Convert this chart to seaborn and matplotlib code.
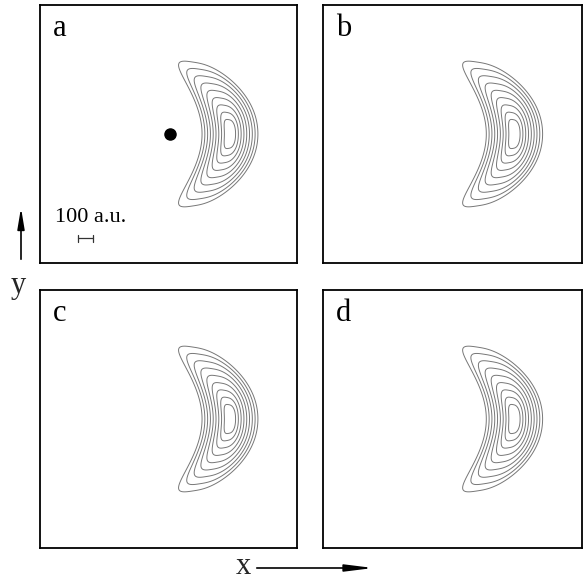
import numpy as np
import matplotlib
matplotlib.use("Agg")
import matplotlib.pyplot as plt
from matplotlib.patches import FancyArrowPatch
import seaborn as sns

sns.set_theme(style="white")
plt.rcParams["font.family"] = ["Liberation Serif", "DejaVu Serif"]

# Panel labels and crescent (wave-packet) parameters, lengths in a.u.
panel_labels = ["a", "b", "c", "d"]
packet_center_x = [410, 410, 410, 410]      # x of the packet maximum
bend = [0.00108, 0.00108, 0.00108, 0.00108]  # parabolic bending of the arms (1/a.u.)
horn_tilt = [0.18, 0.18, 0.18, 0.18]        # tilt of the arm ends
half_width = [207, 207, 207, 207]           # half-extent across the arms
half_length = [533, 533, 533, 533]          # half-extent along y
shape_power = [3.0, 3.0, 3.0, 3.0]
contour_levels = [0.10, 0.19, 0.28, 0.37, 0.46, 0.55, 0.64, 0.73, 0.82]

# Nucleus position (panel a only) and scale bar
nucleus_xy = (10, 0)
scale_bar_len = 100
scale_bar_xy = (-604, -695)
scale_text_xy = (-757, -590)

half_w, half_h = 857, 860

fig = plt.figure(figsize=(5.84, 5.81), dpi=100)
W, H = 584, 581
boxes = [(40, 5, 297, 263), (323, 5, 582, 263),
         (40, 290, 297, 548), (323, 290, 582, 548)]

gx = np.linspace(-half_w, half_w, 600)
gy = np.linspace(-half_h, half_h, 600)
X, Y = np.meshgrid(gx, gy)

for i, (l, t, r, b) in enumerate(boxes):
    ax = fig.add_axes([l / W, 1 - b / H, (r - l) / W, (b - t) / H])
    u = X - packet_center_x[i] + bend[i] * Y ** 2
    v = np.abs(Y) + horn_tilt[i] * u
    q = shape_power[i]
    norm = ((np.abs(u) / half_width[i]) ** q
            + (np.abs(v) / half_length[i]) ** q) ** (1 / q)
    field = np.clip(1 - norm, 0, None)
    ax.contour(X, Y, field, levels=contour_levels, colors="#777777",
               linewidths=0.7)
    ax.set_xlim(-half_w, half_w)
    ax.set_ylim(-half_h, half_h)
    ax.set_xticks([])
    ax.set_yticks([])
    for s in ax.spines.values():
        s.set_color("black")
        s.set_linewidth(1.3)
        s.set_visible(True)
    ax.text(0.05, 0.965, panel_labels[i], transform=ax.transAxes,
            fontsize=22, va="top", ha="left", color="black")
    if i == 0:
        ax.plot(*nucleus_xy, "o", color="black", markersize=8)
        x0, y0 = scale_bar_xy
        ax.plot([x0, x0 + scale_bar_len], [y0, y0], color="#333333", lw=0.9)
        for xe in (x0, x0 + scale_bar_len):
            ax.plot([xe, xe], [y0 - 22, y0 + 22], color="#333333", lw=0.9)
        ax.text(*scale_text_xy, "100 a.u.", fontsize=16,
                ha="left", va="baseline", color="black")

# Coordinate arrows
fig.add_artist(FancyArrowPatch(
    (21 / W, 1 - 262 / H), (21 / W, 1 - 205 / H), transform=fig.transFigure,
    arrowstyle="-|>,head_length=0.9,head_width=0.15", color="black", lw=1.2,
    mutation_scale=14))
fig.text(18 / W, 1 - 285 / H, "y", fontsize=22, ha="center", va="center")

fig.add_artist(FancyArrowPatch(
    (254 / W, 1 - 568 / H), (376 / W, 1 - 568 / H), transform=fig.transFigure,
    arrowstyle="-|>,head_length=1.2,head_width=0.15", color="black", lw=1.2,
    mutation_scale=14))
fig.text(243 / W, 1 - 566 / H, "x", fontsize=22, ha="center", va="center")

fig.savefig("out.png", dpi=100)
